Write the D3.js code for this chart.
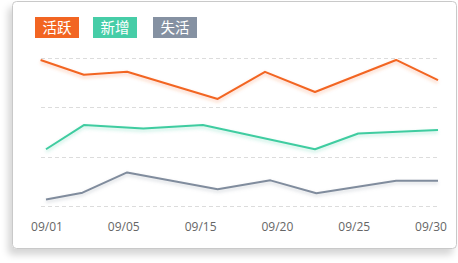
<!DOCTYPE html>
<html>
<head>
<meta charset="utf-8">
<script src="https://cdn.jsdelivr.net/npm/d3@7"></script>
<style>
  html, body { margin: 0; padding: 0; background: #fff; }
  svg { display: block; }
</style>
</head>
<body>
<svg id="chart" width="458" height="263"></svg>
<script>
// Series: day of month (x) and value (y)
const activeDays   = [0.6, 3.8, 7.0, 13.7, 17.2, 20.9, 26.9, 30];
const activeValues = [296, 266, 272, 217, 272, 231, 296, 255];

const newDays   = [1, 3.8, 8.2, 12.6, 20.9, 24.1, 30];
const newValues = [115, 164, 157, 164, 115, 147, 154];

const lostDays   = [1, 3.7, 7.0, 13.7, 17.6, 21.0, 26.9, 30];
const lostValues = [13, 27, 68, 34, 52, 26, 51, 51];

const seriesNames  = ["活跃", "新增", "失活"];
const seriesColors = ["#F26522", "#46CDA7", "#8591A2"];
const lineColors   = ["#F26522", "#3FCCA0", "#808C9D"];

const tickLabels = ["09/01", "09/05", "09/15", "09/20", "09/25", "09/30"];
const gridValues = [0, 100, 200, 300];

const svg = d3.select("#chart");
const defs = svg.append("defs");

// card shadow
const cardShadow = defs.append("filter").attr("id", "cardShadow")
  .attr("x", "-10%").attr("y", "-10%").attr("width", "120%").attr("height", "125%");
cardShadow.append("feDropShadow")
  .attr("dx", -4).attr("dy", 6).attr("stdDeviation", 3.5)
  .attr("flood-color", "#000").attr("flood-opacity", 0.16);

// soft glow under lines
const glow = defs.append("filter").attr("id", "glow")
  .attr("x", "-5%").attr("y", "-30%").attr("width", "110%").attr("height", "160%");
glow.append("feGaussianBlur").attr("stdDeviation", 1.6);

svg.append("rect")
  .attr("x", 12.5).attr("y", 1.5)
  .attr("width", 444).attr("height", 247)
  .attr("rx", 4)
  .attr("fill", "#fff")
  .attr("stroke", "#c9c9c9")
  .attr("filter", "url(#cardShadow)");

const x = d3.scaleLinear().domain([1, 30]).range([46, 438]);
const y = d3.scaleLinear().domain([0, 300]).range([206, 58]);

// dashed grid
svg.append("g").selectAll("line").data(gridValues).join("line")
  .attr("x1", 41).attr("x2", 438)
  .attr("y1", d => Math.round(y(d)) + 0.5)
  .attr("y2", d => Math.round(y(d)) + 0.5)
  .attr("stroke", "#dcdcdc")
  .attr("stroke-width", 1)
  .attr("stroke-dasharray", "4,3");

const series = [
  { days: activeDays, values: activeValues },
  { days: newDays, values: newValues },
  { days: lostDays, values: lostValues }
];

const line = d3.line().x(d => x(d[0])).y(d => y(d[1]));

series.forEach((s, i) => {
  const pts = s.days.map((d, j) => [d, s.values[j]]);
  svg.append("path")
    .datum(pts)
    .attr("d", line)
    .attr("fill", "none")
    .attr("stroke", lineColors[i])
    .attr("stroke-width", 4)
    .attr("stroke-opacity", 0.18)
    .attr("transform", "translate(0,2)")
    .attr("filter", "url(#glow)");
  svg.append("path")
    .datum(pts)
    .attr("d", line)
    .attr("fill", "none")
    .attr("stroke", lineColors[i])
    .attr("stroke-width", 2)
    .attr("stroke-linejoin", "round");
});

// legend
const legendX = [35, 93, 153];
const legend = svg.append("g").selectAll("g").data(seriesNames).join("g")
  .attr("transform", (d, i) => `translate(${legendX[i]},17)`);
legend.append("rect")
  .attr("width", 44).attr("height", 21)
  .attr("fill", (d, i) => seriesColors[i]);
legend.append("text")
  .attr("x", 22).attr("y", 15.8)
  .attr("text-anchor", "middle")
  .attr("fill", "#fff")
  .attr("font-family", "'Noto Sans CJK SC', sans-serif")
  .attr("font-size", 14.5)
  .text(d => d);

// x tick labels
const xl = d3.scalePoint().domain(tickLabels).range([47, 431]);
svg.append("g").selectAll("text").data(tickLabels).join("text")
  .attr("x", d => xl(d))
  .attr("y", 231)
  .attr("text-anchor", "middle")
  .attr("fill", "#666")
  .attr("font-family", "'Open Sans', sans-serif")
  .attr("font-size", 12)
  .text(d => d);
</script>
</body>
</html>
